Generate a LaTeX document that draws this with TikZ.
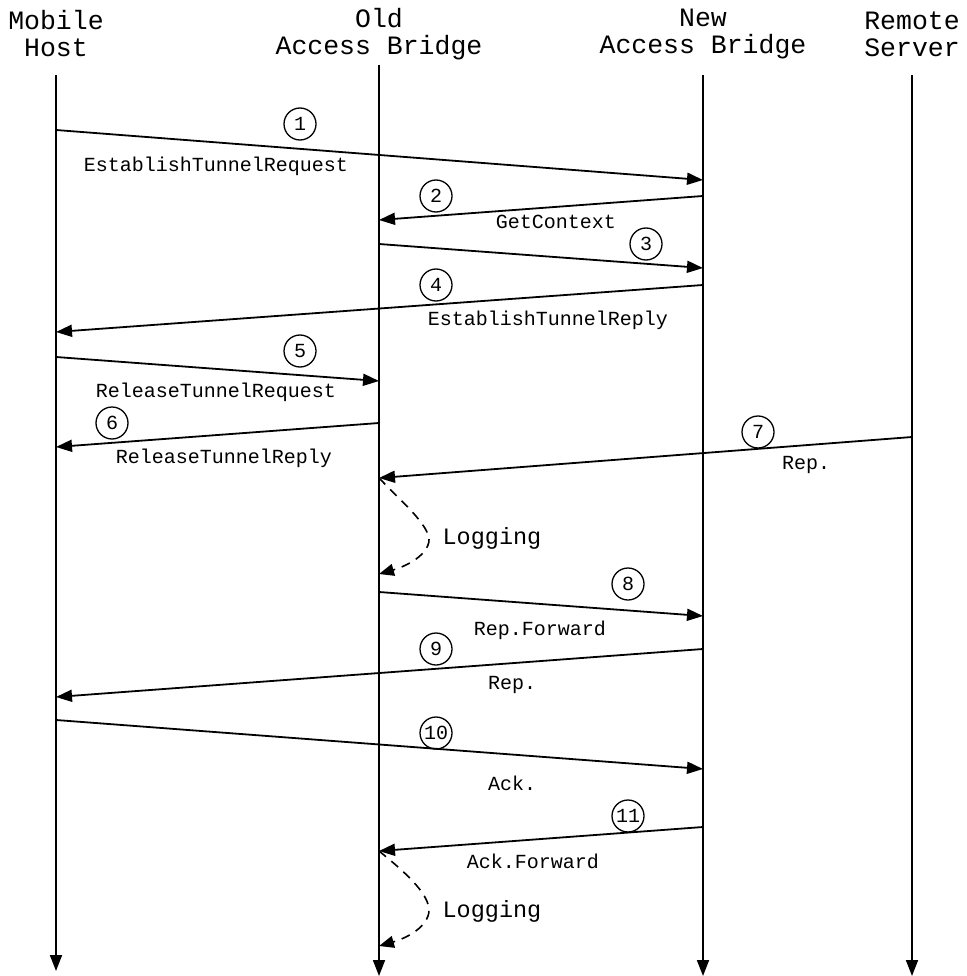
\documentclass[tikz,border=0pt]{standalone}
\usepackage{fontspec}
\setmainfont{Liberation Mono}
\usetikzlibrary{arrows.meta}
\tikzset{
  title/.style={align=center,font=\fontsize{26.5}{27}\selectfont,inner sep=0},
  lbl/.style={font=\fontsize{20}{20}\selectfont,inner sep=0},
  num/.style={circle,draw,line width=1.3pt,minimum size=32pt,inner sep=0,font=\fontsize{20}{20}\selectfont},
  life/.style={line width=1.8pt,-{Triangle[length=16pt,width=12pt]}},
  msg/.style={line width=1.8pt,-{Triangle[length=16pt,width=12pt]}},
  logarr/.style={line width=1.6pt,dash pattern=on 9pt off 7pt,-{Triangle[length=15pt,width=12pt]}},
  logtxt/.style={font=\fontsize{23.5}{24}\selectfont,inner sep=0}
}
\begin{document}
\begin{tikzpicture}[x=1pt,y=-1pt]
\useasboundingbox (0,0) rectangle (966,976);
% titles
\node[title] (tM) at (56,34) {Mobile\\Host};
\node[title] (tO) at (379,34) {Old\\Access Bridge};
\node[title] (tN) at (703,34) {New\\Access Bridge};
\node[title] (tR) at (912,34) {Remote\\Server};
% lifelines
\coordinate (Mt) at (56,75);  \coordinate (Mb) at (56,971);
\coordinate (Ot) at (379,65); \coordinate (Ob) at (379,976);
\coordinate (Nt) at (703,75); \coordinate (Nb) at (703,976);
\coordinate (Rt) at (912,75); \coordinate (Rb) at (912,976);
\draw[life] (Mt) -- (Mb);
\draw[life] (Ot) -- (Ob);
\draw[life] (Nt) -- (Nb);
\draw[life] (Rt) -- (Rb);
% message end points
\coordinate (m1a) at (56,130);  \coordinate (m1b) at (703,180);
\coordinate (m2a) at (703,196); \coordinate (m2b) at (379,220);
\coordinate (m3a) at (379,244); \coordinate (m3b) at (703,268);
\coordinate (m4a) at (703,285); \coordinate (m4b) at (56,332);
\coordinate (m5a) at (56,357);  \coordinate (m5b) at (379,381);
\coordinate (m6a) at (379,423); \coordinate (m6b) at (56,447);
\coordinate (m7a) at (912,437); \coordinate (m7b) at (379,478);
\coordinate (l1b) at (379,574);
\coordinate (m8a) at (379,592); \coordinate (m8b) at (703,616);
\coordinate (m9a) at (703,649); \coordinate (m9b) at (56,697);
\coordinate (m10a) at (56,720); \coordinate (m10b) at (703,769);
\coordinate (m11a) at (703,827); \coordinate (m11b) at (379,851);
\coordinate (l2b) at (379,946);
% messages
\draw[msg] (m1a) -- (m1b);
\draw[msg] (m2a) -- (m2b);
\draw[msg] (m3a) -- (m3b);
\draw[msg] (m4a) -- (m4b);
\draw[msg] (m5a) -- (m5b);
\draw[msg] (m6a) -- (m6b);
\draw[msg] (m7a) -- (m7b);
\draw[msg] (m8a) -- (m8b);
\draw[msg] (m9a) -- (m9b);
\draw[msg] (m10a) -- (m10b);
\draw[msg] (m11a) -- (m11b);
% logging
\draw[logarr] (m7b) .. controls (405,505) and (435,530) .. (428,545) .. controls (422,560) and (400,568) .. (l1b);
\draw[logarr] (m11b) .. controls (405,872) and (435,898) .. (428,916) .. controls (422,932) and (400,940) .. (l2b);
\node[logtxt] (lg1) at (492,538) {Logging};
\node[logtxt] (lg2) at (492,911) {Logging};
% numbers
\node[num] (n1) at (300,124) {1};
\node[num] (n2) at (436,196) {2};
\node[num] (n3) at (646,244) {3};
\node[num] (n4) at (436,285) {4};
\node[num] (n5) at (300,351) {5};
\node[num] (n6) at (112,423) {6};
\node[num] (n7) at (758,432) {7};
\node[num] (n8) at (628,584) {8};
\node[num] (n9) at (436,649) {9};
\node[num] (n10) at (436,733) {10};
\node[num] (n11) at (628,816) {11};
% labels
\node[lbl] (L1) at (216,166) {EstablishTunnelRequest};
\node[lbl] (L2) at (556,222) {GetContext};
\node[lbl] (L4) at (548,320) {EstablishTunnelReply};
\node[lbl] (L5) at (216,392) {ReleaseTunnelRequest};
\node[lbl] (L6) at (224,458) {ReleaseTunnelReply};
\node[lbl] (L7) at (806,465) {Rep.};
\node[lbl] (L8) at (540,630) {Rep.Forward};
\node[lbl] (L9) at (512,685) {Rep.};
\node[lbl] (L10) at (512,783) {Ack.};
\node[lbl] (L11) at (533,861) {Ack.Forward};
\end{tikzpicture}
\end{document}
